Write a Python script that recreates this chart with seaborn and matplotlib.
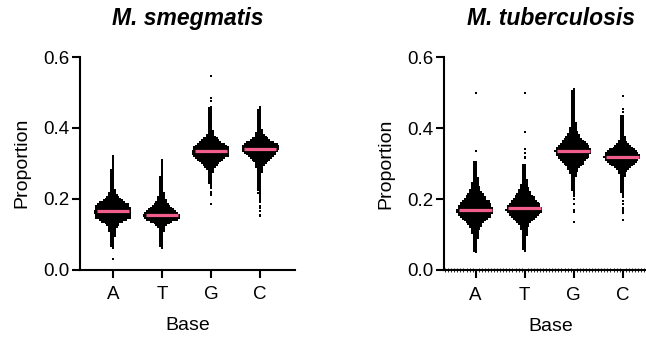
import numpy as np
import pandas as pd
import matplotlib
matplotlib.use("Agg")
import matplotlib.pyplot as plt
import seaborn as sns
from matplotlib.ticker import FormatStrFormatter, MultipleLocator

bases = ["A", "T", "G", "C"]
species = ["M. smegmatis", "M. tuberculosis"]
y_ticks = [0.0, 0.2, 0.4, 0.6]
bin_step = 0.005  # width of each proportion bin

# Number of genes in each 0.005-wide proportion bin, starting at *_start
smeg_A_start = 0.030
smeg_A_counts = [1, 0, 0, 0, 0, 0, 1, 2, 2, 2, 2, 2, 2, 3, 3, 3, 4, 4, 5, 7, 8, 12,
                 15, 19, 19, 19, 20, 20, 19, 19, 18, 17, 14, 11, 9, 7, 5, 4, 3, 3, 2,
                 2, 2, 2, 2, 2, 2, 2, 2, 2, 2, 1, 1, 1, 1, 1, 1, 1, 1]
smeg_T_start = 0.060
smeg_T_counts = [1, 2, 2, 2, 2, 2, 2, 2, 2, 2, 3, 3, 4, 6, 9, 12, 17, 19, 20, 20, 18,
                 16, 14, 12, 10, 8, 6, 5, 4, 4, 3, 3, 2, 2, 2, 2, 2, 2, 2, 2, 2, 1, 1,
                 1, 1, 1, 1, 1, 1, 1, 1]
smeg_G_start = 0.185
smeg_G_counts = [1, 0, 0, 0, 0, 1, 1, 1, 0, 1, 1, 1, 2, 2, 2, 2, 2, 2, 3, 3, 4, 6, 8,
                 10, 12, 14, 16, 19, 20, 20, 20, 19, 19, 17, 15, 12, 10, 8, 5, 4, 3, 3,
                 2, 2, 2, 2, 2, 2, 2, 2, 2, 2, 2, 2, 2, 1, 0, 0, 1, 0, 1, 0, 0, 0, 0,
                 0, 0, 0, 0, 0, 0, 0, 1]
smeg_C_start = 0.150
smeg_C_counts = [1, 1, 0, 1, 0, 1, 1, 0, 1, 1, 1, 1, 1, 2, 1, 2, 2, 2, 2, 2, 2, 2, 2,
                 2, 2, 3, 3, 3, 4, 5, 6, 8, 10, 12, 14, 16, 17, 19, 20, 20, 20, 18, 15,
                 11, 9, 6, 5, 4, 3, 3, 2, 2, 2, 2, 2, 2, 2, 2, 2, 2, 2, 1, 1]

tub_A_start = 0.050
tub_A_counts = [1, 2, 2, 2, 2, 2, 2, 2, 3, 3, 3, 4, 4, 5, 6, 7, 8, 10, 12, 14, 17, 18,
                19, 20, 20, 19, 18, 17, 16, 15, 12, 11, 10, 9, 7, 6, 5, 5, 4, 4, 3, 3,
                3, 2, 2, 2, 2, 2, 2, 2, 2, 2, 0, 0, 0, 0, 0, 1] + [0] * 32 + [1]
tub_T_start = 0.055
tub_T_counts = [1, 2, 2, 2, 2, 2, 2, 2, 2, 3, 3, 3, 4, 4, 5, 6, 8, 10, 12, 14, 16, 17,
                19, 20, 19, 18, 17, 15, 14, 12, 11, 10, 8, 7, 6, 5, 4, 4, 3, 3, 3, 2,
                2, 2, 2, 2, 2, 2, 2, 0, 0, 0, 1, 1, 0, 1, 0, 1, 0, 0, 0, 0, 0, 0, 0,
                0, 0, 1] + [0] * 21 + [1]
tub_G_start = 0.135
tub_G_counts = [1, 0, 0, 0, 0, 0, 1, 1, 0, 0, 1, 0, 0, 1, 0, 1, 1, 1, 2, 2, 2, 2, 2,
                2, 2, 2, 3, 3, 4, 5, 6, 7, 9, 11, 12, 14, 16, 17, 18, 19, 20, 19, 18,
                17, 15, 13, 12, 10, 8, 7, 6, 5, 4, 4, 3, 3, 3, 2, 2, 2, 2, 2, 2, 2, 2,
                2, 2, 2, 2, 2, 2, 2, 2, 2, 2, 1]
tub_C_start = 0.140
tub_C_counts = [1, 0, 0, 0, 1, 1, 1, 1, 0, 1, 0, 1, 0, 1, 1, 1, 2, 2, 2, 2, 2, 2, 2,
                2, 2, 3, 3, 4, 5, 7, 9, 12, 14, 16, 18, 19, 20, 19, 18, 16, 14, 11, 9,
                7, 5, 4, 3, 3, 2, 2, 2, 2, 2, 2, 2, 2, 2, 2, 2, 2, 0, 1, 0, 1, 0, 0,
                0, 0, 0, 0, 1]

median_color = "#F25E8C"


def expand(start, counts):
    counts = np.asarray(counts)
    values = np.round(start + bin_step * np.arange(len(counts)), 3)
    return np.repeat(values, counts)


def frame(groups):
    parts = [pd.DataFrame({"Base": b, "Proportion": expand(s, c)})
             for b, (s, c) in zip(bases, groups)]
    return pd.concat(parts, ignore_index=True)


smeg_df = frame([(smeg_A_start, smeg_A_counts), (smeg_T_start, smeg_T_counts),
                 (smeg_G_start, smeg_G_counts), (smeg_C_start, smeg_C_counts)])
tub_df = frame([(tub_A_start, tub_A_counts), (tub_T_start, tub_T_counts),
                (tub_G_start, tub_G_counts), (tub_C_start, tub_C_counts)])

sns.set_theme(style="ticks")
plt.rcParams["font.family"] = ["Liberation Sans", "DejaVu Sans"]

W, H = 646, 339
fig = plt.figure(figsize=(W / 100, H / 100), dpi=100)
ax1 = fig.add_axes([80 / W, (H - 269.5) / H, 215 / W, 212.5 / H])
ax2 = fig.add_axes([443.7 / W, (H - 270) / H, 215 / W, 212.7 / H])

for ax, df, title, xlim in [(ax1, smeg_df, species[0], (-0.673, 3.714)),
                            (ax2, tub_df, species[1], (-0.653, 3.734))]:
    sns.swarmplot(data=df, x="Base", y="Proportion", order=bases, color="black",
                  marker="s", size=1.26, linewidth=0, ax=ax, zorder=2)
    sns.boxplot(data=df, x="Base", y="Proportion", order=bases, width=0.67,
                showbox=False, showcaps=False, showfliers=False,
                whiskerprops={"visible": False},
                medianprops={"color": median_color, "linewidth": 2.3,
                             "solid_capstyle": "butt"},
                ax=ax, zorder=3)
    ax.set_xlim(*xlim)
    ax.set_ylim(0, 0.6)
    ax.set_yticks(y_ticks)
    ax.yaxis.set_major_formatter(FormatStrFormatter("%.1f"))
    for side in ["top", "right"]:
        ax.spines[side].set_visible(False)
    for side in ["left", "bottom"]:
        ax.spines[side].set_linewidth(1.5)
        ax.spines[side].set_color("black")
    ax.tick_params(axis="both", which="major", length=6, width=1.5,
                   color="black", labelsize=13.5, labelcolor="black")
    ax.tick_params(axis="y", pad=1.5)
    ax.tick_params(axis="x", pad=6)
    ax.set_title(title, fontsize=16.5, fontweight="bold", fontstyle="italic",
                 pad=23, color="black")
    ax.set_ylabel("Proportion", fontsize=14, labelpad=9, color="black")
    ax.set_xlabel("Base", fontsize=14, labelpad=10, color="black")

ax2.xaxis.set_minor_locator(MultipleLocator(0.0625))
ax2.tick_params(axis="x", which="minor", direction="inout", length=3,
                width=0.6, color="black")

fig.savefig("out.png", dpi=100, facecolor="white")
